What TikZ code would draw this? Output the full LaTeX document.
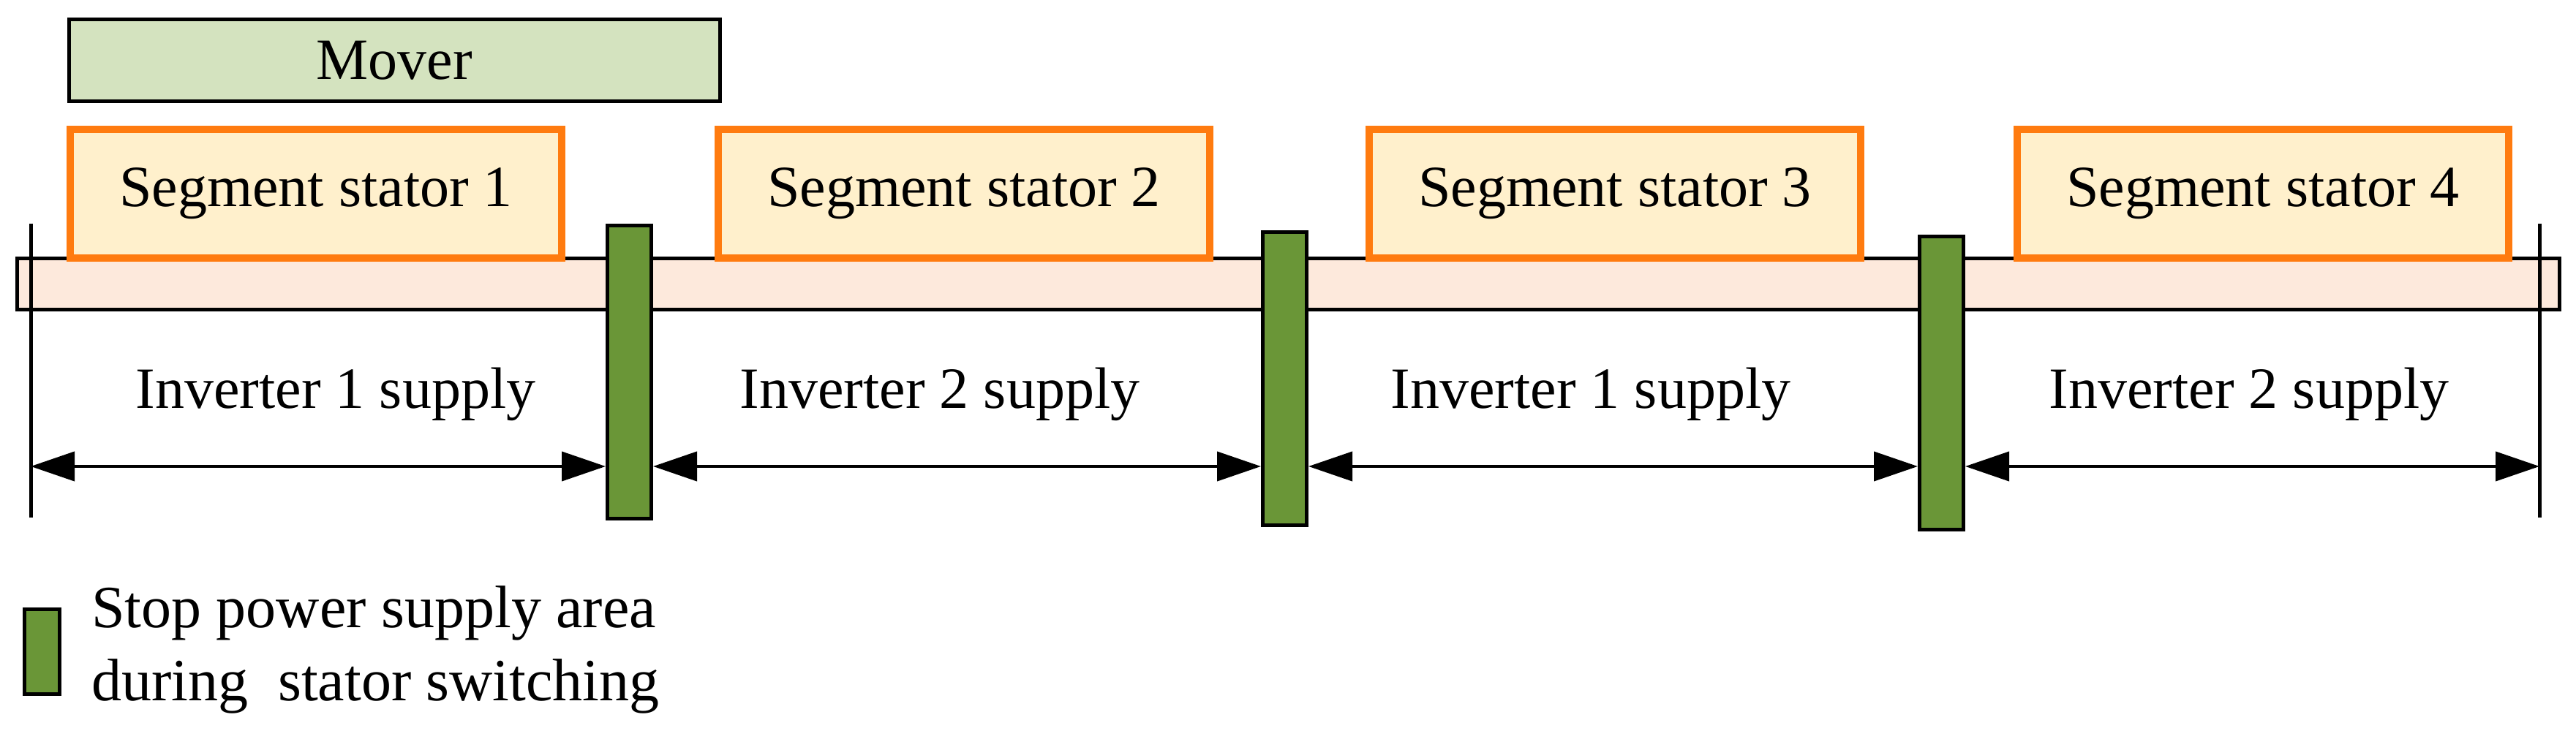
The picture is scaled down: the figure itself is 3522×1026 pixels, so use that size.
\documentclass[tikz,border=0pt]{standalone}
\usepackage{fontspec}
\setmainfont{Liberation Serif}
\usetikzlibrary{arrows.meta}
\begin{document}
\begin{tikzpicture}[x=0.5pt,y=-0.5pt,
  lbl/.style={font=\fontsize{40}{48}\selectfont},
  stator/.style={draw=orange!90!red,line width=5pt,fill=yellow!20!orange!20,minimum width=672*0.5pt,minimum height=176*0.5pt,anchor=north west,inner sep=0pt},
  stop/.style={draw=black,line width=2.5pt,fill=green!40!black!70!olive,anchor=north west,minimum width=60*0.5pt,minimum height=401*0.5pt,inner sep=0pt},
  dim/.style={line width=2pt,{Triangle[length=30pt,width=20pt]}-{Triangle[length=30pt,width=20pt]}}]
\useasboundingbox (0,0) rectangle (3522,1026);
\definecolor{mov}{HTML}{D4E3BF}\definecolor{bar}{HTML}{FDE9DC}\definecolor{stf}{HTML}{FFF0CC}\definecolor{stg}{HTML}{FF7B0F}\definecolor{grn}{HTML}{6A9637}
\node[draw,line width=2.5pt,fill=mov,anchor=north west,minimum width=890*0.5pt,minimum height=112*0.5pt,inner sep=0pt,lbl] (mover) at (92,24) {Mover};
\node[draw,line width=2.5pt,fill=bar,anchor=north west,minimum width=3476*0.5pt,minimum height=70*0.5pt,inner sep=0pt] (bar) at (21,351) {};
\foreach \i/\x in {1/91,2/977,3/1867,4/2753}
  \node[stator,draw=stg,fill=stf,lbl] (s\i) at (\x,172) {Segment stator \i};
\foreach \i/\x/\y in {1/828/306,2/1724/315,3/2622/321}
  \node[stop,fill=grn] (g\i) at (\x,\y) {};
\coordinate (t0) at (42,306); \coordinate (t0b) at (42,708);
\coordinate (t4) at (3472,306); \coordinate (t4b) at (3472,708);
\draw[line width=2.5pt] (t0) -- (t0b); \draw[line width=2.5pt] (t4) -- (t4b);
\coordinate (a0) at (42,638); \coordinate (a4) at (3472,638);
\draw[dim] (a0) -- (g1.west |- a0);
\draw[dim] (g1.east |- a0) -- (g2.west |- a0);
\draw[dim] (g2.east |- a0) -- (g3.west |- a0);
\draw[dim] (g3.east |- a0) -- (a4);
\node[lbl] (i1) at (459,539) {Inverter 1 supply};
\node[lbl] (i2) at (1285,539) {Inverter 2 supply};
\node[lbl] (i3) at (2175,539) {Inverter 1 supply};
\node[lbl] (i4) at (3075,539) {Inverter 2 supply};
\node[stop,fill=grn,minimum width=48*0.5pt,minimum height=116*0.5pt] (lg) at (31,831) {};
\node[lbl,anchor=west,align=left,font=\fontsize{41}{50}\selectfont] (lt) at (118,889) {Stop power supply area\\during\ \ stator switching};
\end{tikzpicture}
\end{document}
